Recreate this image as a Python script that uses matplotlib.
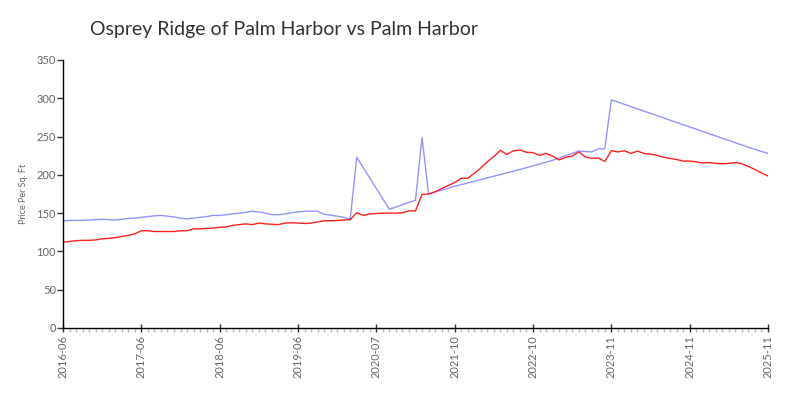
import numpy as np
import matplotlib
matplotlib.use("Agg")
import matplotlib.pyplot as plt
from matplotlib.ticker import MultipleLocator, FixedLocator

plt.rcParams['font.family'] = ['Lato', 'DejaVu Sans']

title = "Osprey Ridge of Palm Harbor vs Palm Harbor"
y_label = "Price Per Sq. Ft"
tick_labels = ["2016-06", "2017-06", "2018-06", "2019-06", "2020-07",
               "2021-10", "2022-10", "2023-11", "2024-11", "2025-11"]
n_points = 109

red_values = [
    112, 113, 114, 114.5, 114.5, 115, 116.5, 117, 118, 119.5,
    121, 123, 127, 127, 126, 126, 126, 126, 127, 127,
    129.5, 129.5, 130, 130.5, 131.5, 132, 134, 135, 136, 135,
    137, 136, 135.5, 135, 137, 137.5, 137, 136.5, 137, 138.5,
    140, 140, 140.5, 141, 141.5, 150.5, 147, 149, 149.5, 150,
    150, 150, 150.5, 153, 153, 174.5, 175, 178, 182, 186,
    190, 195.5, 195.5, 202, 209, 217, 224, 232, 226.5, 231.5,
    232.5, 229.5, 229, 225.5, 228, 224.5, 219.5, 223, 224.5, 230,
    223.5, 221.5, 222, 217.5, 231.5, 230, 231.5, 228, 231, 228,
    227, 225.5, 223, 221.5, 220, 218, 218, 217, 215.5, 216,
    215, 214.5, 215, 216, 214.5, 211, 207, 202.5, 198.5,
]

blue_index = list(range(0, 46)) + [50, 54, 55, 56, 60, 65, 70, 75, 79, 81, 82, 83, 84, 105, 108]
blue_values = [
    140, 140.5, 140.5, 140.5, 141, 141.5, 142, 141.5, 141, 142,
    143, 143.5, 144.5, 145.5, 146.5, 147, 146, 145, 143.5, 142.5,
    143.5, 144.5, 145.5, 147, 147, 148, 149, 150, 151, 152.5,
    151.5, 150, 148, 148, 149, 150.5, 151.5, 152.5, 152.5, 152.5,
    148.5, 147.5, 146, 144.5, 142.5, 223,
    155, 167, 249, 175, 185, 196, 207, 219, 231, 230, 234, 234, 298, 236, 228,
]

fig = plt.figure(figsize=(8, 4), dpi=100)
ax = fig.add_axes([63/800, 72/400, 705/800, 268/400])

x = np.arange(n_points)
ax.plot(blue_index, blue_values, color="#9494ff", lw=1.0)
ax.plot(x, red_values, color="#ff2020", lw=1.0)

ax.set_xlim(0, n_points - 1)
ax.set_ylim(0, 350)
ax.yaxis.set_major_locator(MultipleLocator(50))
ax.xaxis.set_major_locator(FixedLocator(np.arange(0, n_points, 12)))
ax.set_xticklabels(tick_labels, rotation=90)
ax.xaxis.set_minor_locator(MultipleLocator(1))

for s in ["top", "right"]:
    ax.spines[s].set_visible(False)
for s in ["left", "bottom"]:
    ax.spines[s].set_color("black")
    ax.spines[s].set_linewidth(1.0)

ax.tick_params(axis="x", which="major", direction="inout", length=6, width=1, color="#333333",
               labelsize=8, labelcolor="#666666", pad=2)
ax.tick_params(axis="x", which="minor", direction="out", length=3, width=1, color="#bbbbbb")
ax.tick_params(axis="y", which="major", direction="out", length=4, width=1, color="#333333",
               labelsize=8, labelcolor="#666666", pad=1)

ax.set_ylabel(y_label, fontsize=6.5, color="#666666", labelpad=6)

fig.text(90/800, 1 - 30/400, title, fontsize=14, color="#333333",
         ha="left", va="center")

fig.savefig("out.png", dpi=100)
